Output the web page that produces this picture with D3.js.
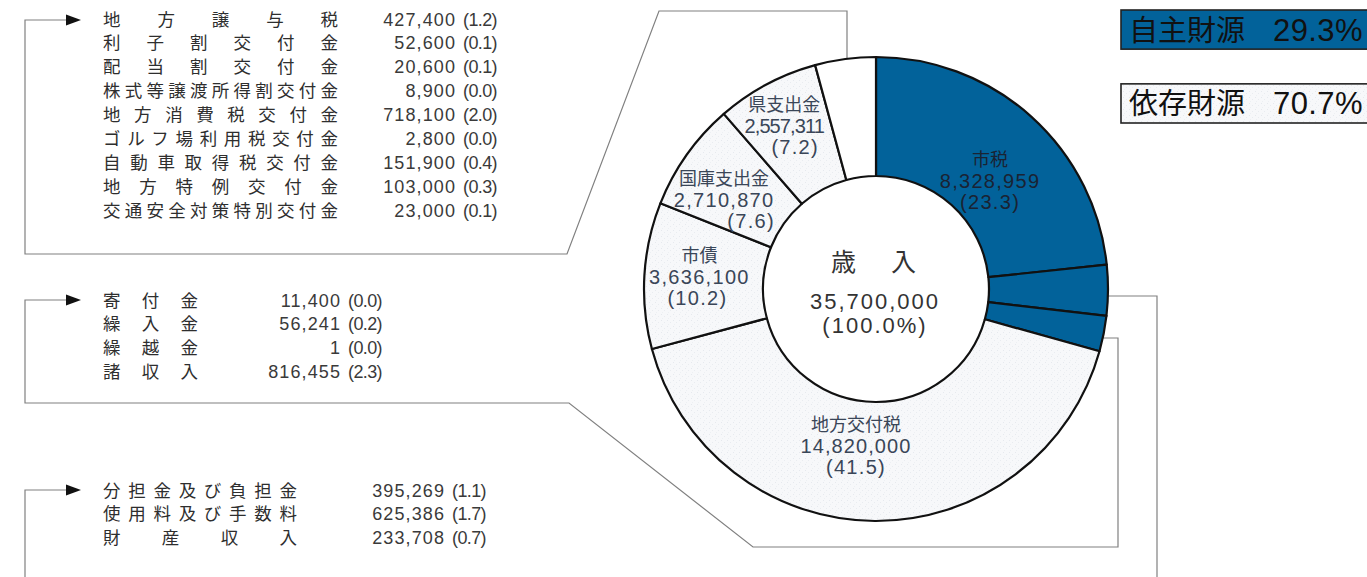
<!DOCTYPE html>
<html><head><meta charset="utf-8">
<script src="https://cdn.jsdelivr.net/npm/d3@7"></script>
<style>
html,body{margin:0;padding:0;background:#fff;overflow:hidden;}
svg{display:block;}
</style></head>
<body>
<script>
// ---------------- DATA ----------------
const topItems  = ["地方譲与税","利子割交付金","配当割交付金","株式等譲渡所得割交付金","地方消費税交付金","ゴルフ場利用税交付金","自動車取得税交付金","地方特例交付金","交通安全対策特別交付金"];
const topValues = [427400,52600,20600,8900,718100,2800,151900,103000,23000];
const topShares = [1.2,0.1,0.1,0.0,2.0,0.0,0.4,0.3,0.1];

const midItems  = ["寄付金","繰入金","繰越金","諸収入"];
const midValues = [11400,56241,1,816455];
const midShares = [0.0,0.2,0.0,2.3];

const botItems  = ["分担金及び負担金","使用料及び手数料","財産収入"];
const botValues = [395269,625386,233708];
const botShares = [1.1,1.7,0.7];

const sliceNames  = ["市税","分担金等","諸収入等","地方交付税","市債","国庫支出金","県支出金","その他"];
const sliceValues = [8328959, d3.sum(botValues), d3.sum(midValues), 14820000, 3636100, 2710870, 2557311, d3.sum(topValues)];
const sliceShares = [23.3, 3.5, 2.5, 41.5, 10.2, 7.6, 7.2, 4.2];
const sliceGroup  = ["自主","自主","自主","依存","依存","依存","依存","依存"];
const sliceLabelled = [true,false,false,true,true,true,true,false];

const centerTitle = "歳　入";
const totalValue  = 35700000;
const totalShare  = 100.0;

const legendNames  = ["自主財源","依存財源"];
const legendShares = [29.3, 70.7];

// ---------------- LAYOUT ----------------
const W = 1367, H = 577;
const cx = 876, cy = 289, rOuter = 232, rInner = 113;
const BLUE = "#02629a";
const NUMF = "'Liberation Sans', 'Noto Sans CJK JP', sans-serif";
const JPF  = "'Noto Sans CJK JP', sans-serif";

const svg = d3.select("body").append("svg").attr("width", W).attr("height", H);

const fmt = d3.format(",");
const fmt1 = d3.format(".1f");

// stipple pattern
const defs = svg.append("defs");
const pat = defs.append("pattern").attr("id","stip").attr("width",6).attr("height",6).attr("patternUnits","userSpaceOnUse");
pat.append("rect").attr("width",6).attr("height",6).attr("fill","#f7f8fa");
pat.append("rect").attr("x",1).attr("y",1).attr("width",1).attr("height",1).attr("fill","#e6e9ee");
pat.append("rect").attr("x",4).attr("y",3).attr("width",1).attr("height",1).attr("fill","#e9ecf0");
pat.append("rect").attr("x",2).attr("y",5).attr("width",1).attr("height",1).attr("fill","#edf0f3");

// ---------------- CALLOUT LINES ----------------
const lineCol = "#808080";
function circleX(y, side){ return cx + side*Math.sqrt(rOuter*rOuter - (y-cy)*(y-cy)); }
function circleY(x){ return cy - Math.sqrt(rOuter*rOuter - (x-cx)*(x-cx)); }

const callouts = [
  [[847, circleY(847)+1],[847,11],[659,11],[567,254],[25,254],[25,20],[68,20]],
  [[circleX(338,1)-1,338],[1118,338],[1118,547],[753,547],[569,403],[25,403],[25,300],[68,300]],
  [[circleX(296,1)-1,296],[1157,296],[1157,H+5]],
  [[25,H+5],[25,490],[68,490]]
];
const lineGen = d3.line();
svg.append("g").selectAll("path").data(callouts).join("path")
  .attr("d", d=>lineGen(d)).attr("fill","none").attr("stroke",lineCol).attr("stroke-width",1.2);

[20,300,490].forEach(y=>{
  svg.append("path").attr("d",`M66,${y-5.5}L81,${y}L66,${y+5.5}Z`).attr("fill","#111");
});

// ---------------- DONUT ----------------
const pie = d3.pie().sort(null).value(d=>d.value).startAngle(0).endAngle(2*Math.PI);
const slices = sliceNames.map((n,i)=>({name:n, value:sliceValues[i], share:sliceShares[i], group:sliceGroup[i], labelled:sliceLabelled[i], idx:i}));
const arcs = pie(slices);
const arc = d3.arc().innerRadius(rInner).outerRadius(rOuter);
const g = svg.append("g").attr("transform",`translate(${cx},${cy})`);
g.selectAll("path").data(arcs).join("path")
  .attr("d", arc)
  .attr("fill", d=> d.data.group==="自主" ? BLUE : (d.data.name==="その他" ? "#ffffff" : "url(#stip)"))
  .attr("stroke","#111").attr("stroke-width",2.2).attr("stroke-linejoin","round");

const labelLayout = {
  "市税":      {r:157, da: 4.6, pdx:0,  ls:1.3},
  "地方交付税": {r:158, da: 7.0, pdx:0,  ls:1.1},
  "市債":      {r:177, da: 0.6, pdx:-2, ls:1.3},
  "国庫支出金": {r:176, da:-5.0, pdx:27, ls:1.3},
  "県支出金":   {r:187, da:-1.3, pdx:11, ls:-0.9}
};
const labG = g.append("g");
arcs.filter(d=>d.data.labelled).forEach(d=>{
  const L = labelLayout[d.data.name];
  const a = (d.startAngle + d.endAngle)/2 + L.da*Math.PI/180;
  const x = L.r*Math.sin(a), y = -L.r*Math.cos(a);
  const col = d.data.group==="自主" ? "#1a2333" : "#3a4658";
  const t = labG.append("g").attr("transform",`translate(${x},${y})`).attr("fill",col).attr("text-anchor","middle");
  t.append("text").attr("y",-15).attr("font-family",JPF).attr("font-size",18).text(d.data.name);
  t.append("text").attr("y",7).attr("font-family",NUMF).attr("font-size",20).attr("letter-spacing",L.ls).text(fmt(d.data.value));
  t.append("text").attr("x",L.pdx).attr("y",28).attr("font-family",NUMF).attr("font-size",20).attr("letter-spacing",1.3).text("("+fmt1(d.data.share)+")");
});

const cg = g.append("g").attr("text-anchor","middle").attr("fill","#333");
cg.append("text").attr("x",0).attr("y",-18).attr("font-family",JPF).attr("font-size",25).attr("letter-spacing",5).text(centerTitle);
cg.append("text").attr("x",-1).attr("y",20).attr("font-family",NUMF).attr("font-size",22).attr("letter-spacing",2).text(fmt(totalValue));
cg.append("text").attr("x",-1).attr("y",44).attr("font-family",NUMF).attr("font-size",22).attr("letter-spacing",2).text("("+fmt1(totalShare)+"%)");

// ---------------- LISTS ----------------
function drawList(items, values, shares, x0, labelW, numRight, yCenter0){
  const y = d3.scalePoint().domain(d3.range(items.length)).range([yCenter0, yCenter0 + 23.9*(items.length-1)]);
  const lg = svg.append("g");
  items.forEach((name,i)=>{
    const yy = y(i) + 6.5;
    lg.append("text").attr("x",x0).attr("y",yy).attr("font-family",JPF).attr("font-size",17.5)
      .attr("fill","#2e2e2e").attr("textLength",labelW).attr("lengthAdjust","spacing").text(name);
    lg.append("text").attr("x",numRight-41).attr("y",yy).attr("text-anchor","end").attr("font-family",NUMF)
      .attr("font-size",18).attr("letter-spacing",1.1).attr("fill","#3a3a3a")
      .text(fmt(values[i]));
    lg.append("text").attr("x",numRight).attr("y",yy).attr("text-anchor","end").attr("font-family",NUMF)
      .attr("font-size",18).attr("letter-spacing",-0.6).attr("fill","#3a3a3a")
      .text("("+fmt1(shares[i])+")");
  });
}
drawList(topItems, topValues, topShares, 103, 235, 497, 19);
drawList(midItems, midValues, midShares, 103, 95, 382, 300);
drawList(botItems, botValues, botShares, 103, 194, 486, 490);

// ---------------- LEGEND BOXES ----------------
const legY = d3.scaleBand().domain(legendNames).range([10, 123]).paddingInner(0.47);
legendNames.forEach((n,i)=>{
  const y0 = legY(n), h = legY.bandwidth();
  svg.append("rect").attr("x",1121).attr("y",y0).attr("width",W-1121+10).attr("height",h)
    .attr("fill", i===0 ? BLUE : "url(#stip)").attr("stroke","#222").attr("stroke-width",1.6);
  const t = svg.append("text").attr("x",1129).attr("y",y0+h/2+11).attr("fill","#111");
  t.append("tspan").attr("font-family",JPF).attr("font-size",29).text(n);
  t.append("tspan").attr("x",1273).attr("font-family",NUMF).attr("font-size",31).attr("letter-spacing",0.4).text(fmt1(legendShares[i])+"%");
});
</script>
</body></html>
